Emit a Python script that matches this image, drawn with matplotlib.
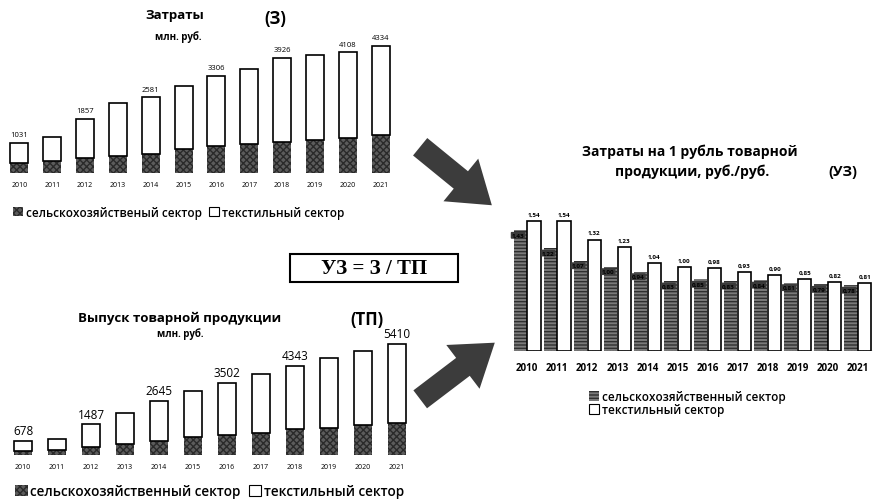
import matplotlib
matplotlib.use("Agg")
import matplotlib.pyplot as plt
import numpy as np
from matplotlib.patches import Patch, FancyArrowPatch, Rectangle

plt.rcParams['font.family'] = ['Open Sans', 'DejaVu Sans']

years = [str(y) for y in range(2010, 2022)]

# Затраты (З), млн. руб.
costs_total = [1031, 1230, 1857, 2380, 2581, 2980, 3306, 3560, 3926, 4030, 4108, 4334]
costs_agri = [340, 420, 515, 575, 660, 835, 915, 975, 1055, 1110, 1180, 1295]
costs_labels = ['1031', '', '1857', '', '2581', '', '3306', '', '3926', '', '4108', '4334']

# Выпуск товарной продукции (ТП), млн. руб.
output_total = [678, 790, 1487, 2050, 2645, 3120, 3502, 3940, 4343, 4720, 5050, 5410]
output_agri = [190, 240, 390, 550, 660, 870, 990, 1070, 1290, 1325, 1450, 1580]
output_labels = ['678', '', '1487', '', '2645', '', '3502', '', '4343', '', '', '5410']

# Затраты на 1 рубль товарной продукции (УЗ), руб./руб.
uz_agri = [1.43, 1.22, 1.07, 1.00, 0.94, 0.83, 0.85, 0.83, 0.84, 0.81, 0.79, 0.78]
uz_textile = [1.54, 1.54, 1.32, 1.23, 1.04, 1.00, 0.98, 0.93, 0.90, 0.85, 0.82, 0.81]

W, H = 880, 502
fig = plt.figure(figsize=(8.8, 5.02), dpi=100)


def box(x0, y0, x1, y1):
    # pixel box (top-left origin) -> figure fraction
    return [x0 / W, 1 - y1 / H, (x1 - x0) / W, (y1 - y0) / H]


def ftext(x, y, s, **kw):
    fig.text(x / W, 1 - y / H, s, **kw)


agri_style = dict(facecolor='#5c5c5c', edgecolor='#2a2a2a', hatch='xxxxx', linewidth=0)
text_style = dict(facecolor='white', edgecolor='black', linewidth=1.2)


def stacked(ax, total, agri, labels, ymax, fs, lab_fs):
    x = np.arange(len(years))
    top = np.array(total) - np.array(agri)
    ax.bar(x, agri, width=0.55, **agri_style)
    ax.bar(x, top, bottom=agri, width=0.55, **text_style)
    for i, t in enumerate(labels):
        if t:
            ax.text(x[i], total[i] + ymax * 0.03, t, ha='center', va='bottom', fontsize=lab_fs)
    ax.set_xlim(-0.5, len(years) - 0.5)
    ax.set_ylim(0, ymax)
    ax.set_xticks(x)
    ax.set_xticklabels(years, fontsize=fs)
    ax.tick_params(axis='x', length=0, pad=6)
    ax.set_yticks([])
    for s in ax.spines.values():
        s.set_visible(False)


def legend(handles_labels, anchor, fs, ncol, loc='center left'):
    handles = [Patch(**st, label=lab) for st, lab in handles_labels]
    leg = fig.legend(handles=handles, loc=loc, bbox_to_anchor=anchor, ncol=ncol, frameon=False,
                     fontsize=fs, handlelength=0.9, handleheight=0.9, handletextpad=0.2,
                     columnspacing=0.6, labelspacing=0.05, borderaxespad=0)
    for t in leg.get_texts():
        t.set_fontweight('semibold')


white_patch = dict(facecolor='white', edgecolor='black', linewidth=0.8)

# --- Затраты ---
ax1 = fig.add_axes(box(3, 20, 397, 174))
stacked(ax1, costs_total, costs_agri, costs_labels, 5250, 5, 5.5)
ftext(175, 15, 'Затраты', fontsize=9.5, fontweight='bold', ha='center', va='center')
ftext(275, 19, '(З)', fontsize=12, fontweight='bold', ha='center', va='center')
ftext(178, 37, 'млн. руб.', fontsize=7, fontweight='bold', ha='center', va='center')
legend([(agri_style, 'сельскохозяйственый сектор'), (white_patch, 'текстильный сектор')],
       (8 / W, 1 - 213 / H), 8.5, 2)

# --- Выпуск товарной продукции ---
ax2 = fig.add_axes(box(6, 330, 414, 456))
stacked(ax2, output_total, output_agri, output_labels, 6141, 5, 8.5)
ftext(180, 318, 'Выпуск товарной продукции', fontsize=9.5, fontweight='bold', ha='center', va='center')
ftext(367, 320, '(ТП)', fontsize=12, fontweight='bold', ha='center', va='center')
ftext(180, 334, 'млн. руб.', fontsize=7, fontweight='bold', ha='center', va='center')
legend([(agri_style, 'сельскохозяйственный сектор'), (white_patch, 'текстильный сектор')],
       (10 / W, 1 - 492 / H), 9.8, 2)

# --- Затраты на 1 рубль ---
ax3 = fig.add_axes(box(512, 200, 873, 352))
x = np.arange(len(years))
bw = 0.44
uz_agri_style = dict(facecolor='#7a7a7a', edgecolor='#2e2e2e', hatch='-----', linewidth=0)
ax3.bar(x - 0.23, uz_agri, width=bw, **uz_agri_style)
ax3.bar(x + 0.23, uz_textile, width=bw, facecolor='white', edgecolor='black', linewidth=1.2)
for i in range(len(years)):
    ax3.text(x[i] + 0.23, uz_textile[i] + 0.05, f'{uz_textile[i]:.2f}'.replace('.', ','),
             ha='center', va='bottom', fontsize=4.5, fontweight='bold')
    ax3.text(x[i] - 0.3, uz_agri[i] - 0.06, f'{uz_agri[i]:.2f}'.replace('.', ','),
             ha='center', va='center', fontsize=4.5, fontweight='bold',
             bbox=dict(boxstyle='round,pad=0.15', facecolor='#3a3a3a', edgecolor='none'))
ax3.axhline(0, color='black', linestyle=':', linewidth=0.8)
ax3.set_xlim(-0.5, len(years) - 0.5)
ax3.set_ylim(0, 1.8)
ax3.set_xticks(x)
ax3.set_xticklabels(years, fontsize=7, fontweight='bold')
ax3.tick_params(axis='x', length=0, pad=8)
ax3.set_yticks([])
for s in ax3.spines.values():
    s.set_visible(False)
ftext(690, 152, 'Затраты на 1 рубль товарной', fontsize=10, fontweight='bold', ha='center', va='center')
ftext(692, 172, 'продукции, руб./руб.', fontsize=10, fontweight='bold', ha='center', va='center')
ftext(843, 172, '(УЗ)', fontsize=10.5, fontweight='bold', ha='center', va='center')
legend([(uz_agri_style, 'сельскохозяйственный сектор'), (white_patch, 'текстильный сектор')],
       (584 / W, 1 - 386 / H), 8.5, 1, loc='upper left')

# --- формула ---
fig.add_artist(Rectangle((290 / W, 1 - 283 / H), 168 / W, 28 / H, transform=fig.transFigure,
                         facecolor='white', edgecolor='black', linewidth=1.5))
ftext(374, 269, 'УЗ = З / ТП', fontsize=15, fontweight='bold', family='Liberation Serif',
      ha='center', va='center')

# --- стрелки ---
for (xa, ya), (xb, yb) in [((418, 146), (494, 208)), ((418, 402), (497, 342))]:
    fig.add_artist(FancyArrowPatch((xa / W, 1 - ya / H), (xb / W, 1 - yb / H),
                                   transform=fig.transFigure,
                                   arrowstyle='simple,head_width=2.2,head_length=1.6,tail_width=0.9',
                                   mutation_scale=18, facecolor='#3c3c3c', edgecolor='none'))

fig.savefig('out.png', dpi=100)
